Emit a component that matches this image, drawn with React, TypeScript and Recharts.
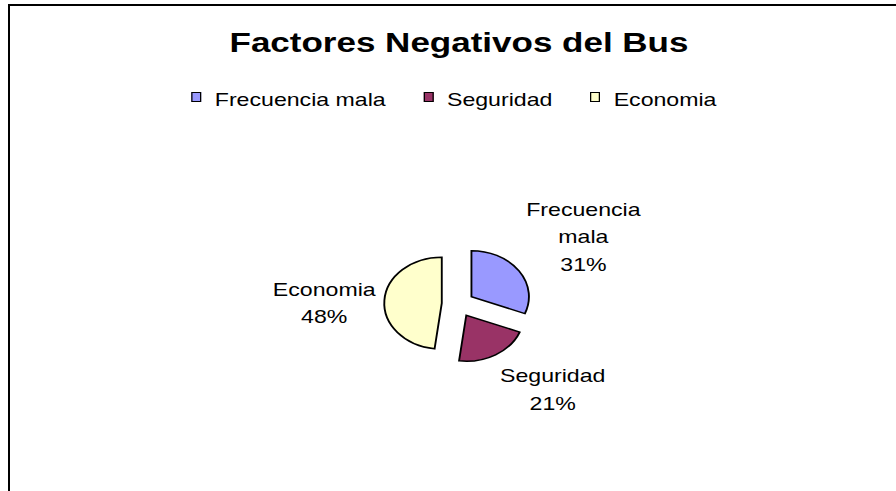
import React from 'react';
import { PieChart, Pie, Cell, Legend, Sector } from 'recharts';

const categories = ['Frecuencia mala', 'Seguridad', 'Economia'];
const shares = [31, 21, 48];
const colors = ['#9999FF', '#993366', '#FFFFCC'];
const title = 'Factores Negativos del Bus';

const data = categories.map((name, i) => ({ name, value: shares[i] }));

const FONT = "'Liberation Sans', Arial, Helvetica, sans-serif";
// the old picture is stretched sideways, so the whole chart is too
const STRETCH = 1.25;
const CHART_W = 718;
const CHART_H = 485;
const PIE_R = 46;
const EXPLODE = 13;
const LABEL_FS = 18.5;
const LINE_GAP = 27.5;
const CAP = LABEL_FS * 0.716;

let ctx: CanvasRenderingContext2D | null = null;
const textWidth = (s: string) => {
  if (!ctx) ctx = document.createElement('canvas').getContext('2d');
  if (!ctx) return s.length * LABEL_FS * 0.55;
  ctx.font = `${LABEL_FS}px ${FONT}`;
  return ctx.measureText(s).width;
};

const clamp = (v: number) => Math.max(-1, Math.min(1, v));

const ExplodedSlice = (props: any) => {
  const rad = (-props.midAngle * Math.PI) / 180;
  return (
    <Sector
      {...props}
      cx={props.cx + EXPLODE * Math.cos(rad)}
      cy={props.cy + EXPLODE * Math.sin(rad)}
    />
  );
};

const SliceLabel = (props: any) => {
  const { cx, cy, midAngle, outerRadius, percent, name } = props;
  const rad = (-midAngle * Math.PI) / 180;
  const dx = Math.cos(rad);
  const dy = Math.sin(rad);
  const r = outerRadius + 20;
  const ax = cx + r * dx;
  const ay = cy + r * dy;
  const lines = [...String(name).split(' '), `${Math.round(percent * 100)}%`];
  const w = Math.max(...lines.map(textWidth));
  const h = CAP + (lines.length - 1) * LINE_GAP;
  const bx = ax + (clamp(2 * dx) * w) / 2;
  const by = ay + clamp(2 * dy) * (h / 2 + 2) + 6;
  const first = by - h / 2 + CAP;
  return (
    <text x={bx} y={first} textAnchor="middle" fontFamily={FONT} fontSize={LABEL_FS} fill="#000">
      {lines.map((l, i) => (
        <tspan key={i} x={bx} y={first + i * LINE_GAP}>
          {l}
        </tspan>
      ))}
    </text>
  );
};

const LegendRow = ({ payload }: any) => {
  const items = [...(payload || [])].sort(
    (a: any, b: any) => categories.indexOf(a.value) - categories.indexOf(b.value)
  );
  return (
    <div
      style={{
        display: 'flex',
        justifyContent: 'center',
        fontFamily: FONT,
        fontSize: LABEL_FS,
        lineHeight: '20px',
        color: '#000',
        paddingRight: 8,
      }}
    >
      {items.map((p: any, i: number) => (
        <div key={p.value} style={{ display: 'flex', alignItems: 'flex-start', marginLeft: i ? 30 : 0 }}>
          <span
            style={{
              width: 8,
              height: 10,
              marginTop: 2.5,
              marginRight: 11,
              background: colors[categories.indexOf(p.value)],
              border: '1px solid #000',
              boxSizing: 'border-box',
            }}
          />
          <span>{p.value}</span>
        </div>
      ))}
    </div>
  );
};

export default function App() {
  return (
    <div
      style={{
        position: 'absolute',
        left: 8,
        top: 4,
        width: 888,
        height: 487,
        boxSizing: 'border-box',
        borderTop: '2px solid #000',
        borderLeft: '2px solid #000',
        overflow: 'hidden',
        background: '#fff',
      }}
    >
      <div style={{ width: CHART_W, height: CHART_H, transform: `scaleX(${STRETCH})`, transformOrigin: '0 0' }}>
        <PieChart width={CHART_W} height={CHART_H} margin={{ top: 0, right: 0, bottom: 0, left: 0 }}>
          <text x={359.2} y={46} textAnchor="middle" fontFamily={FONT} fontSize={28} fontWeight="bold" fill="#000">
            {title}
          </text>
          <Legend
            verticalAlign="middle"
            align="center"
            layout="horizontal"
            content={LegendRow}
            wrapperStyle={{ top: 83.6, left: 0, width: CHART_W }}
          />
          <Pie
            data={data}
            dataKey="value"
            nameKey="name"
            cx={358.4}
            cy={298}
            outerRadius={PIE_R}
            startAngle={90}
            endAngle={-270}
            stroke="#000"
            strokeWidth={1.5}
            label={SliceLabel}
            labelLine={false}
            shape={ExplodedSlice}
            isAnimationActive={false}
          >
            {data.map((d, i) => (
              <Cell key={d.name} fill={colors[i]} />
            ))}
          </Pie>
        </PieChart>
      </div>
    </div>
  );
}
